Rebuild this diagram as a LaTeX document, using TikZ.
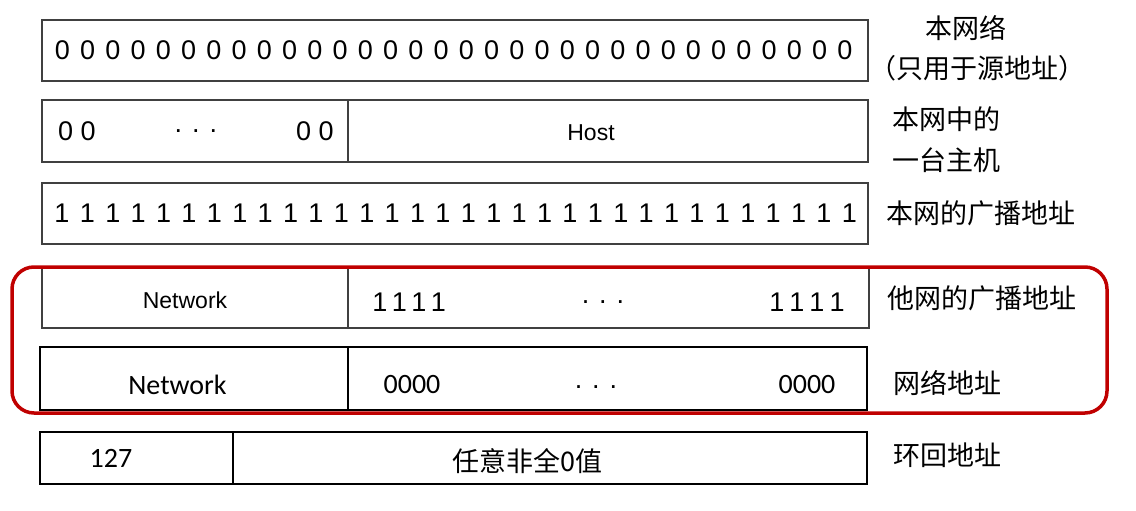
\documentclass[tikz,border=0pt]{standalone}
\usepackage{fontspec}
\setmainfont{Liberation Sans}
\newfontfamily\cjk{Noto Sans CJK SC}
\newfontfamily\calib{Carlito}
\definecolor{boxred}{RGB}{192,0,0}
\tikzset{
  field/.style={draw=black!75, line width=1.3pt},
  bits/.style={font=\fontsize{27}{30}\selectfont, inner sep=0pt},
  helv/.style={font=\fontsize{23}{26}\selectfont, inner sep=0pt},
  cal/.style={font=\calib\fontsize{28}{30}\selectfont, inner sep=0pt},
  zh/.style={font=\cjk\fontsize{27}{30}\selectfont, inner sep=0pt},
}
\begin{document}
\begin{tikzpicture}[x=1pt,y=-1pt]
    \useasboundingbox (0,0) rectangle (1136,511);

    % This network (all zeros)
    \draw[field] (42,20) rectangle (868,81);
    \foreach \i in {0,...,31}
        \node[bits] (zero\i) at (62.5+\i*25.24,50) {0};
    \node[zh] (thisnet) at (966,28) {本网络};
    \node[zh] (srconly) at (977,68) {（只用于源地址）};

    % A host on this network
    \draw[field] (42,100) rectangle (868,162);
    \draw[field] (348,100) -- (348,162);
    \node[bits] (hzl) at (77,131) {0 0};
    \node[bits] (hdots) at (196,131) {. . .};
    \node[bits] (hzr) at (315,131) {0 0};
    \node[helv] (host) at (591,133) {Host};
    \node[zh] (hostlbl) at (946,119) {本网中的};
    \node[zh] (hostlbl2) at (946,160) {一台主机};

    % Broadcast on this network (all ones)
    \draw[field] (42,183) rectangle (868,244);
    \foreach \i in {0,...,31}
        \node[bits] (one\i) at (62+\i*25.4,213) {1};
    \node[zh] (localbc) at (981,213) {本网的广播地址};

    % Broadcast on another network
    \draw[field] (42,268) rectangle (869,328);
    \draw[field] (348,268) -- (348,328);
    \node[helv] (netA) at (185,300) {Network};
    \foreach \i in {0,...,3} {
        \node[bits] (onel\i) at (380+\i*19.5,302) {1};
        \node[bits] (oner\i) at (777+\i*20,302) {1};
    }
    \node[bits] (bdots) at (603,302) {. . .};
    \node[zh] (otherbc) at (982,298) {他网的广播地址};

    % Network address
    \draw[field, draw=black] (40,347) rectangle (867,410);
    \draw[field, draw=black] (348,347) -- (348,410);
    \node[cal] (netB) at (177.5,385) {Network};
    \node[cal] (zerosl) at (412,385) {0000};
    \node[bits] (ndots) at (596,387) {. . .};
    \node[cal] (zerosr) at (807,385) {0000};
    \node[zh] (netaddr) at (947,383) {网络地址};

    % Loopback
    \draw[field, draw=black] (40,432) rectangle (867,484);
    \draw[field, draw=black] (233,432) -- (233,484);
    \node[cal] (lo) at (111,458) {127};
    \node[zh] (anyval) at (527.5,461) {任意非全0值};
    \node[zh] (loaddr) at (947,455) {环回地址};

    % Highlight
    \draw[boxred, line width=3.5pt, rounded corners=22pt] (12,267) rectangle (1107,413);
\end{tikzpicture}
\end{document}
